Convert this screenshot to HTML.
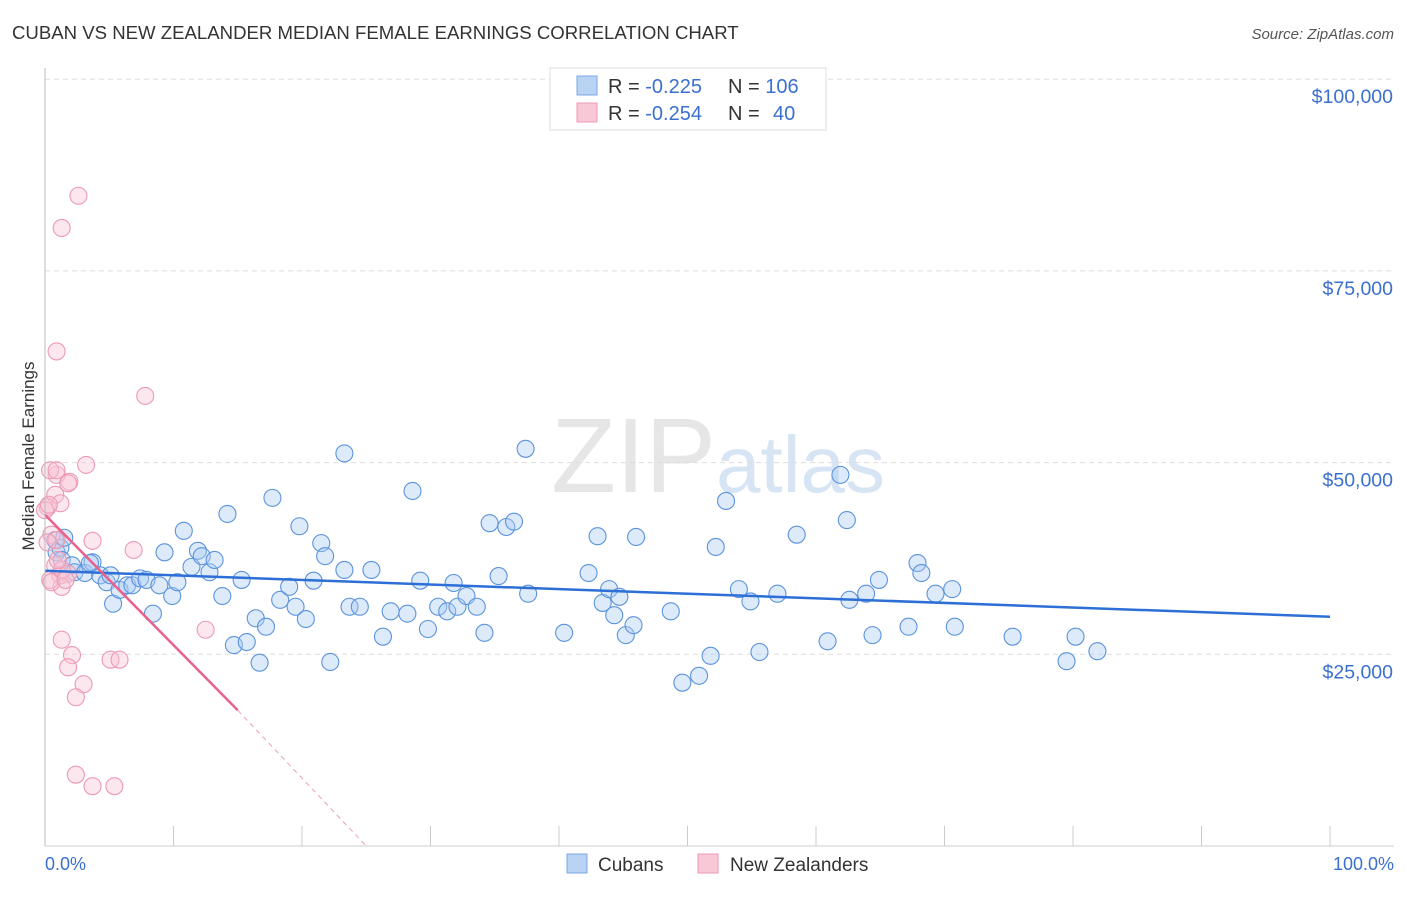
<!DOCTYPE html>
<html><head><meta charset="utf-8"><style>
body{margin:0;background:#fff;font-family:"Liberation Sans",sans-serif;}
svg text{font-family:"Liberation Sans",sans-serif;}
</style></head><body>
<svg id="c" width="1406" height="892" xmlns="http://www.w3.org/2000/svg">
<text x="12" y="39" font-size="18.6" fill="#333">CUBAN VS NEW ZEALANDER MEDIAN FEMALE EARNINGS CORRELATION CHART</text>
<text x="1394" y="39" font-size="15" fill="#555" font-style="italic" text-anchor="end">Source: ZipAtlas.com</text>
<text x="0" y="0" transform="translate(34,456) rotate(-90)" font-size="17" fill="#333" text-anchor="middle">Median Female Earnings</text>
<text x="716" y="492" font-size="106" fill="#e6e6e6" text-anchor="end" font-family="Liberation Serif">ZIP</text>
<text x="716" y="492" font-size="80" fill="#d6e4f4">atlas</text>
<g id="grid"></g><g id="ticks"></g><g id="pts"></g><g id="trend"></g>
<line x1="45" y1="68" x2="45" y2="846" stroke="#bbb"/>
<line x1="45" y1="846" x2="1394" y2="846" stroke="#ccc"/>
<text x="45" y="870" font-size="18" fill="#3b6fd0">0.0%</text>
<text x="1394" y="870" font-size="18" fill="#3b6fd0" text-anchor="end">100.0%</text>
<g>
<rect x="550" y="68" width="276" height="62" fill="#fff" stroke="#ddd"/>
<rect x="577" y="76" width="20" height="19" fill="#b9d3f4" stroke="#7aa7e6"/>
<rect x="577" y="103" width="20" height="19" fill="#f9c8d6" stroke="#ee9ab2"/>
<text x="608" y="93" font-size="20" fill="#333">R = <tspan fill="#3b6fd0">-0.225</tspan><tspan x="728">N = </tspan><tspan fill="#3b6fd0">106</tspan></text>
<text x="608" y="120" font-size="20" fill="#333">R = <tspan fill="#3b6fd0">-0.254</tspan><tspan x="728">N = </tspan><tspan fill="#3b6fd0" x="773">40</tspan></text>
</g>
<g>
<rect x="567" y="854" width="20" height="19" fill="#b9d3f4" stroke="#7aa7e6"/>
<text x="598" y="871" font-size="19" fill="#333">Cubans</text>
<rect x="698" y="854" width="20" height="19" fill="#f9c8d6" stroke="#ee9ab2"/>
<text x="730" y="871" font-size="19" fill="#333">New Zealanders</text>
</g>
</svg>
<script>
const yTicks=[25000,50000,75000,100000];
const yTickLabels=["$25,000","$50,000","$75,000","$100,000"];
const xTicks=[10,20,30,40,50,60,70,80,90,100];
const cubanX=[0.8,0.9,1.2,1.3,2.1,2.3,3.1,3.7,4.3,4.8,5.3,5.8,6.4,6.8,7.4,7.9,8.4,8.9,9.3,9.9,10.3,10.8,11.4,11.9,12.2,12.8,13.2,13.8,14.2,14.7,15.3,15.7,16.4,16.7,17.2,17.7,18.3,19.0,19.5,19.8,20.3,20.9,21.5,21.8,22.2,23.3,23.7,24.5,23.3,25.4,26.3,26.9,28.2,28.6,29.2,29.8,30.6,31.3,31.8,32.1,32.8,33.6,34.2,34.6,35.3,35.9,36.5,37.4,37.6,40.4,42.3,43.0,43.4,43.9,44.3,44.7,45.2,45.8,46.0,48.7,49.6,50.9,51.8,52.2,53.0,54.0,54.9,55.6,57.0,58.5,60.9,61.9,62.4,62.6,63.9,64.4,64.9,67.2,67.9,68.2,69.3,70.6,70.8,75.3,79.5,80.2,81.9,1.5,3.5,5.1];
const cubanY=[39.9,38.3,38.9,37.3,36.6,35.7,35.6,37.0,35.3,34.4,31.6,33.4,34.0,34.0,34.9,34.7,30.3,34.0,38.3,32.6,34.4,41.1,36.4,38.5,37.8,35.7,37.3,32.6,43.3,26.2,34.7,26.6,29.7,23.9,28.6,45.4,32.1,33.8,31.2,41.7,29.6,34.6,39.5,37.8,24.0,51.2,31.2,31.2,36.0,36.0,27.3,30.6,30.3,46.3,34.6,28.3,31.2,30.6,34.3,31.2,32.6,31.2,27.8,42.1,35.2,41.6,42.3,51.8,32.9,27.8,35.6,40.4,31.7,33.5,30.1,32.5,27.5,28.8,40.3,30.6,21.3,22.2,24.8,39.0,45.0,33.5,31.9,25.3,32.9,40.6,26.7,48.4,42.5,32.1,32.9,27.5,34.7,28.6,36.9,35.6,32.9,33.5,28.6,27.3,24.1,27.3,25.4,40.2,36.9,35.3];
const nzX=[2.6,1.3,0.9,7.8,3.2,0.9,0.4,1.9,0.8,1.8,0.2,1.2,0.5,0.9,3.7,6.9,0.8,1.2,1.8,1.3,12.5,1.3,2.1,1.8,3.0,2.4,5.1,5.8,2.4,3.7,5.4,0.4,0.5,0.2,0.9,0,0.3,1.3,1.6,1.0];
const nzY=[84.8,80.6,64.5,58.7,49.7,48.4,49.0,47.5,45.8,47.3,44.2,44.7,40.6,39.9,39.8,38.6,36.6,35.3,35.5,33.8,28.2,26.9,24.9,23.3,21.1,19.4,24.3,24.3,9.3,7.8,7.8,34.7,34.4,39.6,49.0,43.8,44.5,36.0,34.7,37.3];
const cubanTrend=[35900,29900];
const nzTrend=[43200,17700,0];
const nzTrendX=[0,15,25];
const NS="http://www.w3.org/2000/svg";
const X=v=>45+v*12.85;
const Y=v=>846-v/25000*191.7;
function mk(tag,attrs,parent){const e=document.createElementNS(NS,tag);for(const k in attrs)e.setAttribute(k,attrs[k]);document.getElementById(parent).appendChild(e);return e;}
yTicks.forEach((t,i)=>{
 const l=mk('line',{x1:45,x2:1394,y1:Y(t),y2:Y(t),stroke:'#ddd','stroke-dasharray':'5,4'},'grid');
 
 
 const tx=mk('text',{x:1393,y:Y(t)+24,'font-size':19.5,fill:'#3b6fd0','text-anchor':'end'},'grid');
 tx.textContent=yTickLabels[i];
 
 
});
xTicks.forEach(t=>{
 const l=mk('line',{x1:X(t),x2:X(t),y1:826,y2:846,stroke:'#ccc'},'ticks');
 
 
});
cubanX.forEach((x,i)=>{
 const c=mk('circle',{cx:X(x),cy:Y(cubanY[i]*1000),r:8.5,fill:'rgba(170,202,242,0.4)',stroke:'#5b93dc','stroke-width':1.1},'pts');
 
 
});
nzX.forEach((x,i)=>{
 const c=mk('circle',{cx:X(x),cy:Y(nzY[i]*1000),r:8.5,fill:'rgba(248,195,212,0.4)',stroke:'#ec9ab3','stroke-width':1.1},'pts');
 
 
});
const bt=mk('line',{x1:X(0),y1:Y(cubanTrend[0]),x2:X(100),y2:Y(cubanTrend[1]),stroke:'#2d6fd6','stroke-width':2.5},'trend');


const pt=mk('line',{x1:X(nzTrendX[0]),y1:Y(nzTrend[0]),x2:X(nzTrendX[1]),y2:Y(nzTrend[1]),stroke:'#e8628c','stroke-width':2.5},'trend');


const pd=mk('line',{x1:X(nzTrendX[1]),y1:Y(nzTrend[1]),x2:X(nzTrendX[2]),y2:Y(nzTrend[2]),stroke:'#eaa0b8','stroke-width':1,'stroke-dasharray':'5,4'},'trend');


</script>
</body></html>
